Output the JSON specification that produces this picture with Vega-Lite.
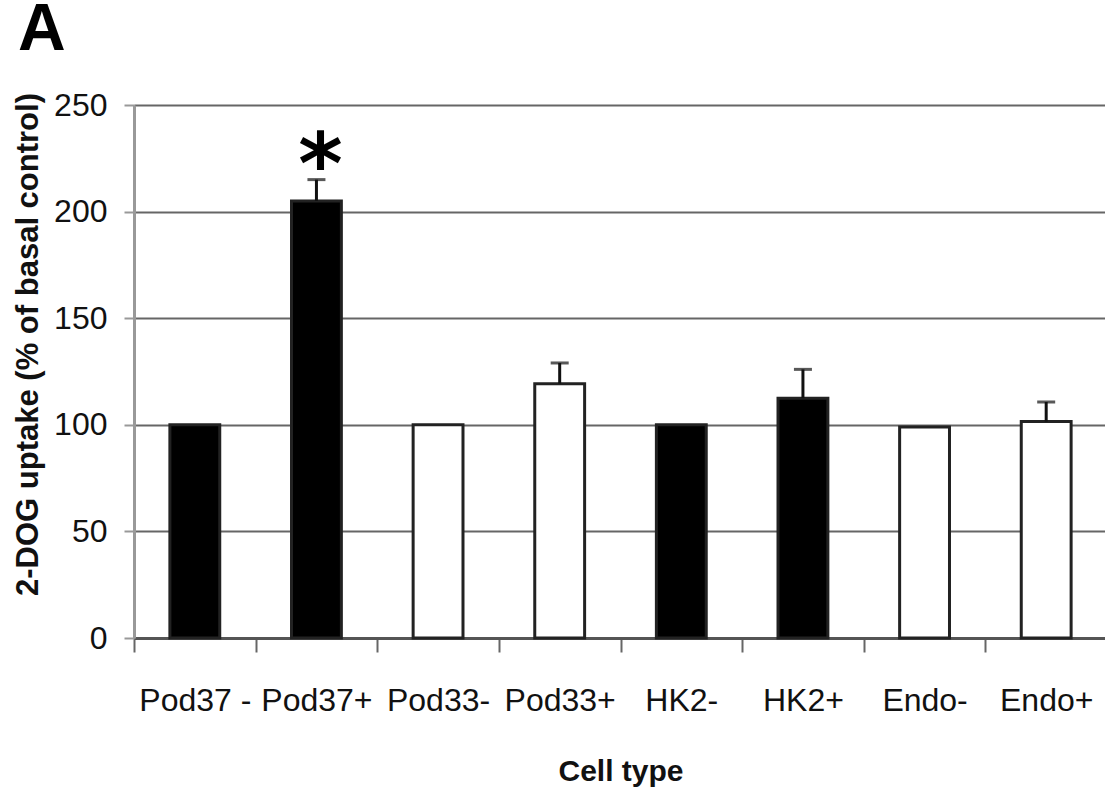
{
  "$schema": "https://vega.github.io/schema/vega-lite/v6.json",
  "autosize": {"type": "none"},
  "padding": {"left": 134, "top": 105, "right": 0, "bottom": 151},
  "width": 973,
  "height": 533,
  "background": "white",
  "title": {
    "text": "A",
    "anchor": "start",
    "frame": "group",
    "orient": "top",
    "dx": -116,
    "offset": 25,
    "fontSize": 66,
    "fontWeight": "bold",
    "font": "Liberation Sans",
    "color": "#000"
  },
  "data": {
    "values": [
      {"cell": "Pod37 -", "value": 100, "upper": null, "grp": "dark", "sig": ""},
      {"cell": "Pod37+", "value": 205, "upper": 215, "grp": "dark", "sig": "*"},
      {"cell": "Pod33-", "value": 100, "upper": null, "grp": "light", "sig": ""},
      {"cell": "Pod33+", "value": 119.3, "upper": 129, "grp": "light", "sig": ""},
      {"cell": "HK2-", "value": 100, "upper": null, "grp": "dark", "sig": ""},
      {"cell": "HK2+", "value": 112.5, "upper": 126, "grp": "dark", "sig": ""},
      {"cell": "Endo-", "value": 99, "upper": null, "grp": "light", "sig": ""},
      {"cell": "Endo+", "value": 101.5, "upper": 110.7, "grp": "light", "sig": ""}
    ]
  },
  "encoding": {
    "x": {
      "field": "cell",
      "type": "nominal",
      "sort": null,
      "scale": {"paddingInner": 0, "paddingOuter": 0},
      "axis": {
        "title": "Cell type",
        "labelAngle": 0,
        "labelFont": "Liberation Sans",
        "labelFontSize": 32,
        "labelColor": "#111",
        "labelPadding": 33,
        "labelBaseline": "top",
        "tickBand": "extent",
        "tickSize": 14,
        "tickWidth": 2,
        "tickColor": "#666",
        "domainColor": "#555",
        "domainWidth": 3,
        "grid": false,
        "titleFont": "Liberation Sans",
        "titleFontSize": 30,
        "titleFontWeight": "bold",
        "titleColor": "#111",
        "titleBaseline": "alphabetic",
        "titleY": 142
      }
    },
    "y": {
      "field": "value",
      "type": "quantitative",
      "scale": {"domain": [0, 250], "nice": false},
      "axis": {
        "title": "2-DOG uptake (% of basal control)",
        "values": [0, 50, 100, 150, 200, 250],
        "labelFont": "Liberation Sans",
        "labelFontSize": 32,
        "labelColor": "#111",
        "labelPadding": 17,
        "tickSize": 10,
        "tickWidth": 2,
        "tickColor": "#999",
        "domainColor": "#999",
        "domainWidth": 3,
        "grid": true,
        "gridColor": "#666",
        "gridWidth": 2,
        "titleFont": "Liberation Sans",
        "titleFontSize": 31,
        "titleFontWeight": "bold",
        "titleColor": "#111",
        "titleAngle": 270,
        "titleBaseline": "middle",
        "titleAlign": "center",
        "titleX": -106,
        "titleY": 239
      }
    }
  },
  "layer": [
    {
      "mark": {"type": "bar", "stroke": "#222", "strokeWidth": 3, "width": {"band": 0.41}},
      "encoding": {
        "fill": {
          "field": "grp",
          "type": "nominal",
          "scale": {"domain": ["dark", "light"], "range": ["#000000", "#ffffff"]},
          "legend": null
        }
      }
    },
    {
      "transform": [{"filter": "datum.upper != null"}],
      "mark": {"type": "rule", "strokeWidth": 3, "color": "#111"},
      "encoding": {"y2": {"field": "upper"}}
    },
    {
      "transform": [{"filter": "datum.upper != null"}],
      "mark": {"type": "tick", "size": 18, "thickness": 3, "color": "#111"},
      "encoding": {"y": {"field": "upper", "type": "quantitative"}}
    },
    {
      "transform": [{"filter": "datum.sig == '*'"}],
      "mark": {"type": "text", "font": "DejaVu Sans", "fontWeight": "bold", "fontSize": 85, "baseline": "alphabetic", "dy": 14, "dx": 4, "color": "#000"},
      "encoding": {
        "y": {"field": "upper", "type": "quantitative"},
        "text": {"field": "sig"}
      }
    }
  ]
}
